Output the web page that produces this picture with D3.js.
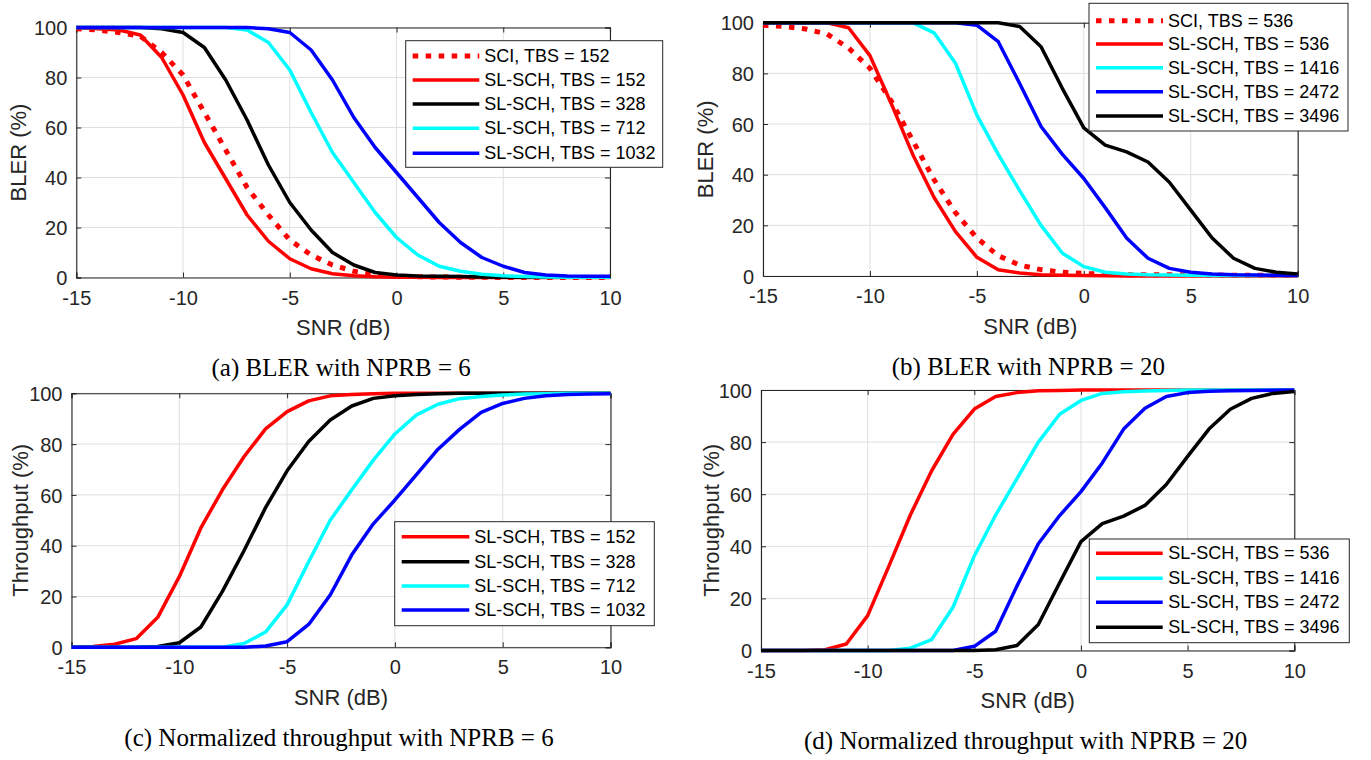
<!DOCTYPE html>
<html>
<head>
<meta charset="utf-8">
<script src="https://cdn.jsdelivr.net/npm/d3@7/dist/d3.min.js"></script>
<style>
  html, body { margin: 0; padding: 0; background: #fff; }
  svg { display: block; }
</style>
</head>
<body>
<svg id="chart" width="1371" height="760"></svg>
<script>
// ---------------- DATA ----------------
const snr = [-15,-14,-13,-12,-11,-10,-9,-8,-7,-6,-5,-4,-3,-2,-1,0,1,2,3,4,5,6,7,8,9,10];
const xTicks = [-15,-10,-5,0,5,10];
const yTicks = [0,20,40,60,80,100];

// (a) BLER, NPRB = 6
const blerA_sci152  = [99.5,99,98,96.5,90,81,66,51,36,25,15,9,5,2.5,1.2,0.6,0.3,0.2,0.1,0.1,0,0,0,0,0,0];
const blerA_sch152  = [100,99.5,99,97,88,73,54,39.5,25,14.5,7.5,3.5,1.5,0.7,0.3,0.1,0.1,0,0,0,0,0,0,0,0,0];
const blerA_sch328  = [100,100,100,100,99.5,98,92,79,63,45,30,19,10,5,2,1,0.6,0.5,0.4,0.2,0.1,0.1,0.1,0.1,0.1,0.1];
const blerA_sch712  = [100,100,100,100,100,100,100,100,99,94,83,66,50,38,26,16,9,4.5,2.5,1.3,0.7,0.4,0.2,0.1,0.1,0.1];
const blerA_sch1032 = [100,100,100,100,100,100,100,100,100,99.5,98,91,79,64,52,42,32,22,14,8,4.5,2,1,0.6,0.5,0.5];

// (b) BLER, NPRB = 20
const blerB_sci536  = [99,98.5,97.5,95.5,90,82,69,53.5,38,25,15,8,4.3,2.5,1.5,1,0.7,0.5,0.5,0.5,0.5,0.4,0.3,0.3,0.3,0.3];
const blerB_sch536  = [100,100,100,100,98,87,68,48,31,17.5,7.4,2.5,1.2,0.5,0.3,0.2,0.1,0,0,0,0,0,0,0,0,0];
const blerB_sch1416 = [100,100,100,100,100,100,100,100,96,84,63.5,48,33.7,20,9,3.7,1.5,0.8,0.5,0.4,0.3,0.2,0.2,0.2,0.2,0.2];
const blerB_sch2472 = [100,100,100,100,100,100,100,100,100,100,99,92.5,76,59,48,38.5,27,15,7,3,1.5,0.8,0.5,0.4,0.3,0.2];
const blerB_sch3496 = [100,100,100,100,100,100,100,100,100,100,100,100,98.5,90.5,74,58.5,51.7,49,45,37,26,15,7,3,1.5,0.8];

// (c) Throughput, NPRB = 6
const thrC_sch152  = [0,0.3,1.2,3.4,11.8,27.8,47,62,75,86,92.8,97,99,99.5,99.8,100,100,100,100,100,100,100,100,100,100,100];
const thrC_sch328  = [0,0,0,0,0.3,1.8,8,22,38,55,69.5,81,89.5,95,98,99,99.5,99.8,100,100,100,100,100,100,100,100];
const thrC_sch712  = [0,0,0,0,0,0,0,0,1.5,6,16.7,33.7,50,62,73.7,84,91.5,95.7,97.9,98.7,99.3,99.7,99.8,100,100,100];
const thrC_sch1032 = [0,0,0,0,0,0,0,0,0,0.5,2.2,9,20.6,36.4,48.6,58,68,78,85.8,92.5,96,98,99,99.5,99.7,99.8];

// (d) Throughput, NPRB = 20
const thrD_sch536  = [0,0,0,0.3,2.5,13.4,32.5,52,69,83,92.7,97.5,99,99.7,99.8,100,100,100,100,100,100,100,100,100,100,100];
const thrD_sch1416 = [0,0,0,0,0,0,0,0.9,4.2,16.6,36.3,52,66,80,90.7,96,98.7,99.3,99.6,99.8,100,100,100,100,100,100];
const thrD_sch2472 = [0,0,0,0,0,0,0,0,0,0,1.6,7.4,24.8,41,51.8,61,72,85,93,97.5,99,99.5,99.7,99.8,99.9,100];
const thrD_sch3496 = [0,0,0,0,0,0,0,0,0,0,0,0.3,1.9,10,26,41.8,48.7,51.6,55.7,63.7,74.5,85,92.6,96.8,98.7,99.4];

const labelsA = ["SCI, TBS = 152","SL-SCH, TBS = 152","SL-SCH, TBS = 328","SL-SCH, TBS = 712","SL-SCH, TBS = 1032"];
const labelsB = ["SCI, TBS = 536","SL-SCH, TBS = 536","SL-SCH, TBS = 1416","SL-SCH, TBS = 2472","SL-SCH, TBS = 3496"];
const labelsC = ["SL-SCH, TBS = 152","SL-SCH, TBS = 328","SL-SCH, TBS = 712","SL-SCH, TBS = 1032"];
const labelsD = ["SL-SCH, TBS = 536","SL-SCH, TBS = 1416","SL-SCH, TBS = 2472","SL-SCH, TBS = 3496"];

const captions = [
  "(a) BLER with NPRB = 6",
  "(b) BLER with NPRB = 20",
  "(c) Normalized throughput with NPRB = 6",
  "(d) Normalized throughput with NPRB = 20"
];
const xLabel = "SNR (dB)";
const yLabelBler = "BLER (%)";
const yLabelThr = "Throughput (%)";

// ---------------- STYLE / LAYOUT ----------------
const RED = "#ff0000", BLACK = "#000000", CYAN = "#00ffff", BLUE = "#0000ff";
const AX = "#262626";

const panels = [
  { box:{l:76.3, r:610, t:27.5, b:277.5}, ylab:yLabelBler, ylabOff:58, cap:captions[0],
    series:[blerA_sci152, blerA_sch152, blerA_sch328, blerA_sch712, blerA_sch1032],
    labels:labelsA, colors:[RED,RED,BLACK,CYAN,BLUE], dotted:[true,false,false,false,false],
    leg:{x0:405.7, x1:662.7, y0:40.7, y1:167.3, l0:412.7, l1:479.3, tx:484.3, rows:[56,80,104,128.3,153.3]} },
  { box:{l:763, r:1297.7, t:22.7, b:276}, ylab:yLabelBler, ylabOff:58, cap:captions[1],
    series:[blerB_sci536, blerB_sch536, blerB_sch1416, blerB_sch2472, blerB_sch3496],
    labels:labelsB, colors:[RED,RED,CYAN,BLUE,BLACK], dotted:[true,false,false,false,false],
    leg:{x0:1089, x1:1348, y0:3.3, y1:131, l0:1096, l1:1163, tx:1168, rows:[20.7,44,67.7,91.7,116]} },
  { box:{l:71.5, r:610.5, t:393.3, b:647.3}, ylab:yLabelThr, ylabOff:51, cap:captions[2],
    series:[thrC_sch152, thrC_sch328, thrC_sch712, thrC_sch1032],
    labels:labelsC, colors:[RED,BLACK,CYAN,BLUE], dotted:[false,false,false,false],
    leg:{x0:394.7, x1:654.3, y0:521.7, y1:625.7, l0:401.7, l1:469.3, tx:474.3, rows:[536.7,561.7,586,610]} },
  { box:{l:761, r:1294.3, t:390, b:650.5}, ylab:yLabelThr, ylabOff:50, cap:captions[3],
    series:[thrD_sch536, thrD_sch1416, thrD_sch2472, thrD_sch3496],
    labels:labelsD, colors:[RED,CYAN,BLUE,BLACK], dotted:[false,false,false,false],
    leg:{x0:1089.3, x1:1349.3, y0:539, y1:642.7, l0:1096, l1:1162.7, tx:1168.3, rows:[553.3,578.3,602.3,627.3]} }
];

const svg = d3.select("#chart");
const SANS = "'Liberation Sans', Arial, Helvetica, sans-serif";
const SERIF = "'Liberation Serif', 'Times New Roman', serif";
const fmt = d => String(d);   // plain hyphen-minus like the reference

panels.forEach((p, pi) => {
  const b = p.box;
  const x = d3.scaleLinear().domain([-15, 10]).range([b.l, b.r]);
  const y = d3.scaleLinear().domain([0, 100]).range([b.b, b.t]);
  const g = svg.append("g");

  // grid
  g.append("g").selectAll("line").data(xTicks).join("line")
    .attr("x1", d => x(d)).attr("x2", d => x(d)).attr("y1", b.t).attr("y2", b.b)
    .attr("stroke", "#dfdfdf").attr("stroke-width", 1);
  g.append("g").selectAll("line").data(yTicks).join("line")
    .attr("x1", b.l).attr("x2", b.r).attr("y1", d => y(d)).attr("y2", d => y(d))
    .attr("stroke", "#dfdfdf").attr("stroke-width", 1);

  // axes (inward ticks, all four sides)
  const tickLen = 5;
  const axB = g.append("g").attr("transform", `translate(0,${b.b})`)
    .call(d3.axisBottom(x).tickValues(xTicks).tickSize(-tickLen).tickPadding(12).tickFormat(fmt));
  const axT = g.append("g").attr("transform", `translate(0,${b.t})`)
    .call(d3.axisTop(x).tickValues(xTicks).tickSize(-tickLen).tickFormat(""));
  const axL = g.append("g").attr("transform", `translate(${b.l},0)`)
    .call(d3.axisLeft(y).tickValues(yTicks).tickSize(-tickLen).tickPadding(9).tickFormat(fmt));
  const axR = g.append("g").attr("transform", `translate(${b.r},0)`)
    .call(d3.axisRight(y).tickValues(yTicks).tickSize(-tickLen).tickFormat(""));
  [axB, axT, axL, axR].forEach(a => {
    a.select(".domain").attr("stroke", AX).attr("stroke-width", 1.1);
    a.selectAll(".tick line").attr("stroke", AX).attr("stroke-width", 1);
    a.selectAll(".tick text").attr("fill", AX).attr("font-family", SANS).attr("font-size", 20);
  });
  axB.selectAll(".tick text").attr("dy", "0.75em");
  axL.selectAll(".tick text").attr("dy", "0.36em");

  // lines
  const line = d3.line().x((d, i) => x(snr[i])).y(d => y(d));
  p.series.forEach((s, si) => {
    const path = g.append("path").datum(s)
      .attr("d", line)
      .attr("fill", "none")
      .attr("stroke", p.colors[si])
      .attr("stroke-linejoin", "round");
    if (p.dotted[si]) {
      path.attr("stroke-width", 5).attr("stroke-dasharray", "5.5,7.5");
    } else {
      path.attr("stroke-width", 3.5);
    }
  });

  // axis labels
  g.append("text").attr("x", (b.l + b.r) / 2).attr("y", b.b + 50)
    .attr("text-anchor", "middle").attr("dominant-baseline", "central")
    .attr("font-family", SANS).attr("font-size", 22).attr("fill", AX).text(xLabel);
  g.append("text")
    .attr("transform", `translate(${b.l - p.ylabOff},${(b.t + b.b) / 2}) rotate(-90)`)
    .attr("text-anchor", "middle").attr("dominant-baseline", "central")
    .attr("font-family", SANS).attr("font-size", 22).attr("fill", AX).text(p.ylab);

  // caption
  g.append("text").attr("x", (b.l + b.r) / 2 - 2).attr("y", b.b + 90)
    .attr("text-anchor", "middle").attr("dominant-baseline", "central")
    .attr("font-family", SERIF).attr("font-size", 25).attr("fill", "#000").text(p.cap);

  // legend
  const L = p.leg;
  const lg = g.append("g");
  lg.append("rect").attr("x", L.x0).attr("y", L.y0).attr("width", L.x1 - L.x0).attr("height", L.y1 - L.y0)
    .attr("fill", "#fff").attr("stroke", AX).attr("stroke-width", 1);
  p.labels.forEach((lab, li) => {
    const ly = L.rows[li];
    const ln = lg.append("line").attr("x1", L.l0).attr("x2", L.l1).attr("y1", ly).attr("y2", ly)
      .attr("stroke", p.colors[li]);
    if (p.dotted[li]) ln.attr("stroke-width", 5).attr("stroke-dasharray", "5.5,7.5");
    else ln.attr("stroke-width", 3.5);
    lg.append("text").attr("x", L.tx).attr("y", ly).attr("dominant-baseline", "central")
      .attr("font-family", SANS).attr("font-size", 18).attr("fill", "#000").text(lab);
  });
});
</script>
</body>
</html>
